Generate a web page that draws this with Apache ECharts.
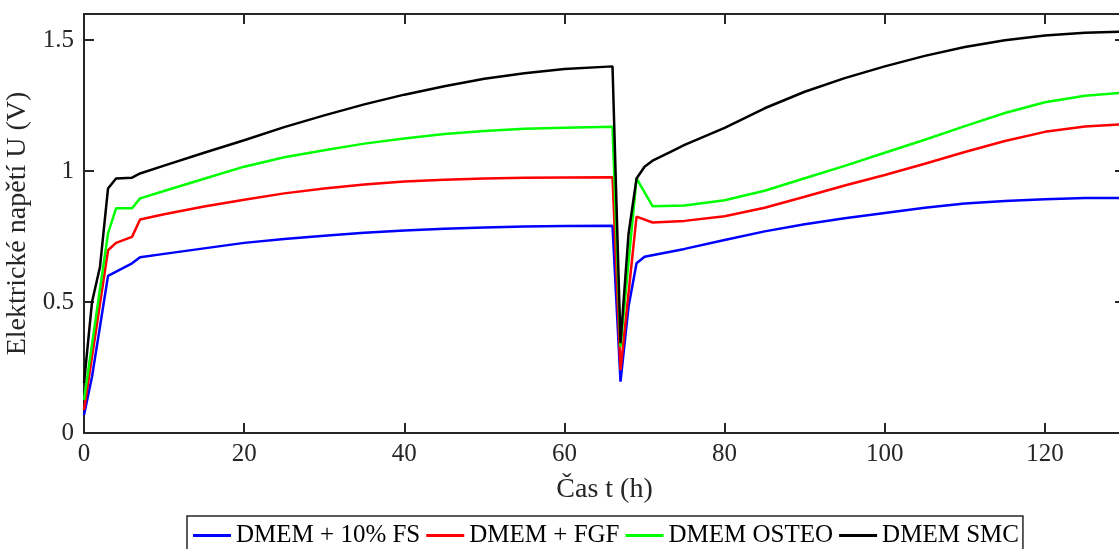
<!DOCTYPE html>
<html>
<head>
<meta charset="utf-8">
<script src="https://cdn.jsdelivr.net/npm/echarts@6/dist/echarts.min.js"></script>
<style>
html,body{margin:0;padding:0;background:#fff;}
#chart{width:1119px;height:549px;}
</style>
</head>
<body>
<div id="chart"></div>
<script>
const seriesNames = ['DMEM + 10% FS', 'DMEM + FGF', 'DMEM OSTEO', 'DMEM SMC'];
const xTicks = [0, 20, 40, 60, 80, 100, 120];
const yTicks = [0, 0.5, 1, 1.5];

const tBlue = [0,1,3,6,7,10,15,20,25,30,35,40,45,50,55,60,66,67,68,69,70,75,80,85,90,95,100,105,110,115,120,125,130];
const vBlue = [0.069,0.215,0.600,0.648,0.671,0.684,0.705,0.726,0.741,0.753,0.765,0.773,0.780,0.785,0.789,0.790,0.791,0.196,0.482,0.648,0.673,0.703,0.737,0.770,0.797,0.820,0.840,0.860,0.876,0.886,0.893,0.897,0.898];

const tRed = [0,3,4,6,7,10,15,20,25,30,35,40,45,50,55,60,66,67,69,71,75,80,85,90,95,100,105,110,115,120,125,130];
const vRed = [0.088,0.698,0.726,0.749,0.815,0.835,0.865,0.891,0.915,0.934,0.949,0.960,0.967,0.972,0.975,0.976,0.977,0.240,0.826,0.804,0.810,0.828,0.860,0.902,0.945,0.985,1.028,1.073,1.115,1.150,1.170,1.180];

const tGreen = [0,3,4,6,7,10,15,20,25,30,35,40,45,50,55,60,66,67,69,71,75,80,85,90,95,100,105,110,115,120,125,130];
const vGreen = [0.126,0.762,0.858,0.858,0.896,0.924,0.971,1.017,1.053,1.080,1.105,1.125,1.142,1.153,1.162,1.166,1.169,0.330,0.972,0.866,0.869,0.889,0.925,0.973,1.020,1.070,1.120,1.172,1.222,1.263,1.288,1.300];

const tBlack = [0,1,2,3,4,6,7,10,15,20,25,30,35,40,45,50,55,60,66,67,68,69,70,71,73,75,80,85,90,95,100,105,110,115,120,125,130];
const vBlack = [0.190,0.500,0.635,0.934,0.972,0.975,0.991,1.021,1.070,1.118,1.168,1.213,1.255,1.292,1.324,1.353,1.374,1.390,1.400,0.343,0.760,0.972,1.017,1.040,1.070,1.100,1.165,1.240,1.303,1.355,1.400,1.440,1.474,1.500,1.518,1.528,1.533];

const colors = ['#0000ff', '#ff0000', '#00ff00', '#000000'];
const tList = [tBlue, tRed, tGreen, tBlack];
const vList = [vBlue, vRed, vGreen, vBlack];

const FONT = 'Liberation Serif';
const AX = '#262626';

const chart = echarts.init(document.getElementById('chart'));

function xAxisCfg(pos, showLabel, name) {
  return {
    type: 'value', position: pos, min: 0, max: 130,
    name: name || '', nameLocation: 'middle', nameGap: 43,
    nameTextStyle: {fontFamily: FONT, fontSize: 28, color: AX},
    axisLine: {show: true, onZero: false, lineStyle: {color: AX, width: 2}},
    axisTick: {show: true, inside: true, length: 10, customValues: xTicks, lineStyle: {color: AX, width: 2}},
    axisLabel: {show: showLabel, customValues: xTicks, margin: 9, fontFamily: FONT, fontSize: 25, color: AX},
    splitLine: {show: false}
  };
}
function yAxisCfg(pos, showLabel, name) {
  return {
    type: 'value', position: pos, min: 0, max: 1.6,
    name: name || '', nameLocation: 'middle', nameGap: 45,
    nameTextStyle: {fontFamily: FONT, fontSize: 28, color: AX},
    axisLine: {show: true, onZero: false, lineStyle: {color: AX, width: 2}},
    axisTick: {show: true, inside: true, length: 10, customValues: yTicks, lineStyle: {color: AX, width: 2}},
    axisLabel: {show: showLabel, customValues: yTicks, margin: 10, fontFamily: FONT, fontSize: 25, color: AX},
    splitLine: {show: false}
  };
}

chart.setOption({
  animation: false,
  backgroundColor: '#fff',
  grid: {left: 84, top: 14, right: -6, bottom: 116, containLabel: false, outerBoundsMode: 'none'},
  xAxis: [xAxisCfg('bottom', true, 'Čas t (h)'), xAxisCfg('top', false)],
  yAxis: [yAxisCfg('left', true, 'Elektrické napětí U (V)'), yAxisCfg('right', false)],
  legend: {
    left: 187, top: 516,
    padding: [7, 4, 12, 6],
    itemGap: 6, itemWidth: 38, itemHeight: 3, icon: 'rect',
    borderColor: AX, borderWidth: 1.5, backgroundColor: '#fff',
    textStyle: {fontFamily: FONT, fontSize: 25, color: '#000'},
    data: seriesNames
  },
  series: seriesNames.map((n, i) => ({
    name: n, type: 'line', xAxisIndex: 0, yAxisIndex: 0,
    symbol: 'none', showSymbol: false,
    color: colors[i],
    lineStyle: {color: colors[i], width: 2.5},
    data: tList[i].map((t, j) => [t, vList[i][j]])
  }))
});
</script>
</body>
</html>
